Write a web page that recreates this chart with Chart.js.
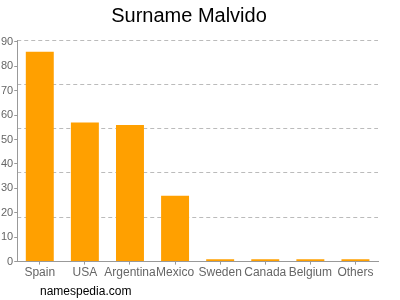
<!DOCTYPE html>
<html>
<head>
<meta charset="utf-8">
<script src="https://cdn.jsdelivr.net/npm/chart.js@4"></script>
<style>
  html, body { margin: 0; padding: 0; background: #fff; }
  #wrap { position: relative; width: 400px; height: 300px; }
  #footer { position: absolute; left: 40px; top: 284px; font: 12px "Liberation Sans", Arial, sans-serif; color: #000; }
</style>
</head>
<body>
<div id="wrap">
  <canvas id="chart" width="400" height="300"></canvas>
  <div id="footer">namespedia.com</div>
</div>
<script>
const countries = ['Spain', 'USA', 'Argentina', 'Mexico', 'Sweden', 'Canada', 'Belgium', 'Others'];
const counts = [86, 57, 56, 27, 1, 1, 1, 1];
const yTicks = [0, 10, 20, 30, 40, 50, 60, 70, 80, 90];
const yMax = 90.8;

const ctx = document.getElementById('chart').getContext('2d');
new Chart(ctx, {
    type: 'bar',
    data: {
        labels: countries,
        datasets: [{
            data: counts,
            backgroundColor: '#ffa000',
            barPercentage: 0.62,
            categoryPercentage: 1
        }]
    },
    options: {
        responsive: false,
        animation: false,
        layout: { padding: { left: 0, right: 22, top: 0, bottom: 19 } },
        plugins: {
            legend: { display: false },
            tooltip: { enabled: false },
            title: {
                display: true,
                text: 'Surname Malvido',
                color: '#000',
                font: { family: 'Liberation Sans', size: 20, weight: 'normal' },
                padding: { top: 4, bottom: 12 }
            }
        },
        scales: {
            x: {
                grid: { display: true, drawOnChartArea: false, offset: false, tickLength: 3, color: '#999' },
                border: { color: '#999' },
                ticks: { color: '#666', autoSkip: false, font: { family: 'Liberation Sans', size: 12 }, maxRotation: 0, padding: 1 }
            },
            y: {
                min: 0,
                max: yMax,
                afterBuildTicks: axis => { axis.ticks = yTicks.map(v => ({ value: v })); },
                grid: { drawOnChartArea: false, tickLength: 3, color: '#999' },
                border: { color: '#999' },
                ticks: { color: '#666', font: { family: 'Liberation Sans', size: 11 }, padding: 1 }
            },
            yGrid: {
                position: 'right',
                min: 0,
                max: yMax,
                afterBuildTicks: axis => {
                    const t = [];
                    for (let i = 1; i <= 5; i++) t.push({ value: yMax * i / 5 });
                    axis.ticks = t;
                },
                grid: { color: '#bbb', drawTicks: false },
                border: { display: false, dash: [4, 3] },
                ticks: { display: false }
            }
        }
    }
});
</script>
</body>
</html>
